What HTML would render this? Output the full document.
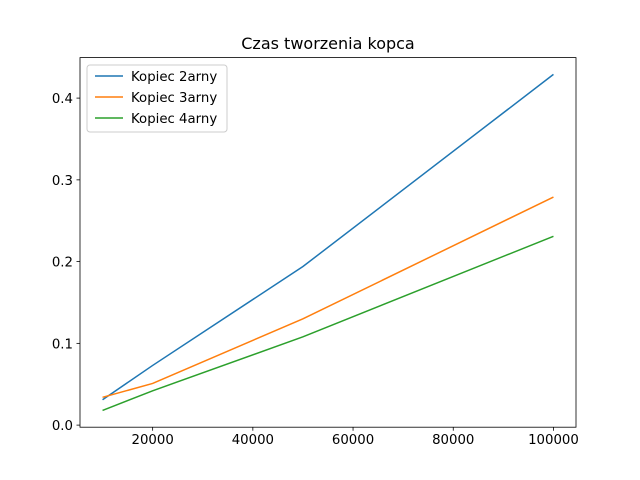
<!DOCTYPE html>
<html><head><meta charset="utf-8"><style>
body{margin:0;background:#fff;}
svg{display:block;font-family:"DejaVu Sans","Liberation Sans",sans-serif;}
</style></head><body>
<svg id="chart" width="640" height="480">
<text x="328" y="49" font-size="16" text-anchor="middle">Czas tworzenia kopca</text>
<g id="plot"></g>
<rect x="80" y="57.6" width="496" height="369.6" fill="none" stroke="#000" stroke-width="0.8"/>
<g>
<rect x="87" y="65" width="140" height="67" fill="#fff" fill-opacity="0.8" stroke="#ccc" rx="3"/>
<line x1="95" y1="76" x2="123" y2="76" stroke="#1f77b4" stroke-width="1.5"/>
<text x="131" y="81" font-size="13.3">Kopiec 2arny</text>
<line x1="95" y1="97" x2="123" y2="97" stroke="#ff7f0e" stroke-width="1.5"/>
<text x="131" y="102" font-size="13.3">Kopiec 3arny</text>
<line x1="95" y1="118" x2="123" y2="118" stroke="#2ca02c" stroke-width="1.5"/>
<text x="131" y="123" font-size="13.3">Kopiec 4arny</text>
</g>
</svg>
<script>
const xs = [10000, 20000, 50000, 100000];
const s2 = [0.031, 0.073, 0.194, 0.429];
const s3 = [0.034, 0.051, 0.130, 0.279];
const s4 = [0.018, 0.042, 0.108, 0.231];
const xTicks = [20000, 40000, 60000, 80000, 100000];
const yTicks = [0.0, 0.1, 0.2, 0.3, 0.4];
const yTickLabels = ["0.0", "0.1", "0.2", "0.3", "0.4"];

const L=80,R=576,T=57.6,B=427.2;
const allY=s2.concat(s3,s4);
const xmin0=Math.min(...xs),xmax0=Math.max(...xs);
const ymin0=Math.min(...allY),ymax0=Math.max(...allY);
const xm=(xmax0-xmin0)*0.05, ym=(ymax0-ymin0)*0.05;
const xmin=xmin0-xm,xmax=xmax0+xm,ymin=ymin0-ym,ymax=ymax0+ym;
const X=v=>L+(v-xmin)/(xmax-xmin)*(R-L);
const Y=v=>B-(v-ymin)/(ymax-ymin)*(B-T);
const NS="http://www.w3.org/2000/svg";
const g=document.getElementById('plot');
function mk(t,a){const e=document.createElementNS(NS,t);for(const k in a)e.setAttribute(k,a[k]);g.appendChild(e);return e;}
xTicks.forEach((v,i)=>{
  const l=mk('line',{x1:X(v),x2:X(v),y1:B,y2:B+3.5,stroke:'#000','stroke-width':0.8});
  
  
  const t=mk('text',{x:X(v),y:B+17,'font-size':13.3,'text-anchor':'middle'});
  t.textContent=String(v);
  
  
});
yTicks.forEach((v,i)=>{
  const l=mk('line',{x1:L-3.5,x2:L,y1:Y(v),y2:Y(v),stroke:'#000','stroke-width':0.8});
  
  
  const t=mk('text',{x:L-7,y:Y(v)+5,'font-size':13.3,'text-anchor':'end'});
  t.textContent=yTickLabels[i];
  
  
});
[[s2,'#1f77b4','line-kopiec-2arny'],[s3,'#ff7f0e','line-kopiec-3arny'],[s4,'#2ca02c','line-kopiec-4arny']].forEach(([s,c,n])=>{
  const p=mk('polyline',{points:xs.map((x,i)=>X(x)+','+Y(s[i])).join(' '),fill:'none',stroke:c,'stroke-width':1.5});
  
  
});
</script>
</body></html>
